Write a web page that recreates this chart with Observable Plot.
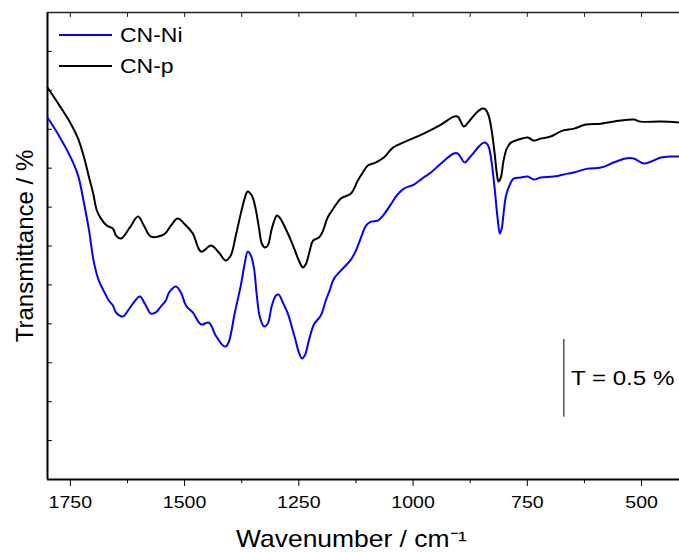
<!DOCTYPE html>
<html>
<head>
<meta charset="utf-8">
<script src="https://cdn.jsdelivr.net/npm/d3@7"></script>
<script src="https://cdn.jsdelivr.net/npm/@observablehq/plot@0.6"></script>
<style>
  body { margin: 0; background: #fff; }
  #wrap { position: relative; width: 679px; height: 552px; overflow: hidden; }
  #wrap svg { font-family: "Liberation Sans", Arial, sans-serif; }
  #legend { position: absolute; left: 0; top: 0; }
</style>
</head>
<body>
<div id="wrap"></div>
<script>
// FTIR spectra: wavenumber (cm^-1) and transmittance (%, offset scale)
const wnNi = [1800,1775,1749,1733,1720,1709,1700,1690,1683,1674,1666,1657,1650,1635,1624,1613,1598,1587,1574,1563,1552,1541,1534,1519,1508,1497,1482,1464,1447,1432,1416,1410,1403,1390,1377,1368,1362,1355,1348,1342,1335,1326,1318,1309,1300,1294,1285,1274,1265,1257,1250,1243,1237,1228,1217,1202,1191,1182,1173,1158,1136,1125,1114,1103,1092,1077,1064,1049,1036,1020,998,977,961,939,911,902,887,878,867,856,845,839,834,828,821,815,810,806,802,797,791,780,764,749,736,721,692,662,648,618,589,561,535,517,495,458,436,417];
const tNi = [2.325,2.209,2.068,1.952,1.773,1.599,1.419,1.297,1.246,1.195,1.150,1.118,1.073,1.047,1.085,1.130,1.175,1.130,1.066,1.073,1.111,1.150,1.201,1.240,1.201,1.118,1.073,0.996,1.008,0.925,0.861,0.854,0.886,1.073,1.246,1.394,1.464,1.439,1.355,1.182,1.040,0.983,1.002,1.118,1.182,1.188,1.137,1.066,0.976,0.893,0.816,0.777,0.796,0.893,0.996,1.053,1.150,1.220,1.291,1.342,1.413,1.471,1.554,1.631,1.657,1.663,1.702,1.766,1.824,1.869,1.895,1.940,1.972,2.030,2.094,2.094,2.036,2.062,2.100,2.139,2.164,2.158,2.132,2.036,1.856,1.676,1.580,1.612,1.708,1.818,1.875,1.933,1.940,1.946,1.927,1.940,1.946,1.965,1.972,1.997,2.004,2.036,2.062,2.062,2.030,2.068,2.075,2.075];

const wnP = [1800,1775,1749,1733,1720,1709,1700,1692,1683,1670,1657,1650,1639,1620,1602,1589,1574,1545,1530,1515,1499,1482,1464,1442,1425,1410,1399,1388,1377,1368,1362,1353,1346,1337,1331,1324,1318,1309,1298,1292,1274,1261,1250,1241,1235,1226,1219,1206,1197,1187,1173,1158,1136,1121,1110,1099,1082,1064,1044,1012,977,939,911,902,889,878,867,856,848,841,834,828,821,817,813,808,802,795,786,769,749,736,721,699,673,648,622,589,546,517,502,458,417];
const tP = [2.518,2.408,2.286,2.190,2.068,1.940,1.837,1.728,1.676,1.631,1.612,1.567,1.548,1.618,1.689,1.631,1.561,1.574,1.631,1.676,1.638,1.580,1.464,1.503,1.458,1.407,1.439,1.567,1.708,1.811,1.850,1.824,1.760,1.612,1.516,1.490,1.503,1.612,1.696,1.683,1.580,1.490,1.407,1.362,1.381,1.471,1.535,1.554,1.599,1.683,1.747,1.805,1.837,1.920,1.972,2.017,2.036,2.068,2.132,2.177,2.222,2.280,2.331,2.331,2.267,2.299,2.338,2.370,2.383,2.376,2.331,2.241,2.081,1.972,1.914,1.940,2.049,2.126,2.164,2.184,2.197,2.177,2.190,2.203,2.241,2.254,2.280,2.286,2.306,2.312,2.299,2.299,2.293];

const seriesNames = ["CN-Ni", "CN-p"];
const seriesColors = ["#0000ff", "#000000"];

const xMajorTicks = [1750, 1500, 1250, 1000, 750, 500];
const xMinorTicks = [1625, 1375, 1125, 875, 625];
const yTicks = [0.25, 0.5, 0.75, 1, 1.25, 1.5, 1.75, 2, 2.25, 2.5, 2.75];

// scale bar: 0.5 % transmittance
const barWavenumber = 670;
const barFrom = 0.4;
const barTo = 0.9;
const barLabel = "T = 0.5 %";

const xLabel = "Wavenumber / cm⁻¹";
const yLabel = "Transmittance / %";

const xMin = 417, xMax = 1800, yMin = 0, yMax = 3;

const ni = wnNi.map((w, i) => ({w, t: tNi[i]}));
const p = wnP.map((w, i) => ({w, t: tP[i]}));

// a plain straight stroke used for the inward frame ticks
const tickShape = {draw(context, l) { context.moveTo(0, 0); context.lineTo(0, -l); }};

const chart = Plot.plot({
  width: 679,
  height: 552,
  marginLeft: 47,
  marginRight: 0,
  marginTop: 12,
  marginBottom: 73,
  style: {background: "#fff", color: "#000", overflow: "visible"},
  x: {domain: [xMax, xMin]},
  y: {domain: [yMin, yMax], axis: null},
  marks: [
    // bottom axis: labelled major ticks, shorter minor ticks
    Plot.axisX({anchor: "bottom", ticks: xMajorTicks, tickSize: 7, tickPadding: 9, fontSize: 17, label: null, tickFormat: d => String(d)}),
    Plot.axisX({anchor: "bottom", ticks: xMinorTicks, tickSize: 4, fill: "none", label: null}),
    // top and left frame ticks pointing inward
    Plot.vector([...xMajorTicks, ...xMinorTicks], {x: d => d, y: yMax, length: 4, rotate: 180, anchor: "start", shape: tickShape, stroke: "#222", strokeWidth: 1}),
    Plot.vector(yTicks, {x: xMax, y: d => d, length: 4, rotate: 90, anchor: "start", shape: tickShape, stroke: "#000", strokeWidth: 1}),
    Plot.ruleX([xMax], {strokeWidth: 2}),
    Plot.ruleY([yMin], {strokeWidth: 2}),
    Plot.ruleY([yMax], {strokeWidth: 1.5, stroke: "#222"}),
    Plot.line(p, {x: "w", y: "t", stroke: seriesColors[1], strokeWidth: 2, curve: "catmull-rom"}),
    Plot.line(ni, {x: "w", y: "t", stroke: seriesColors[0], strokeWidth: 2, curve: "catmull-rom"}),
    Plot.ruleX([barWavenumber], {y1: barFrom, y2: barTo, stroke: "#000", strokeWidth: 1}),
    Plot.text([barLabel], {x: barWavenumber, y: (barFrom + barTo) / 2, dx: 7, textAnchor: "start", fontSize: 21, className: "wide"}),
    Plot.text([xLabel], {frameAnchor: "bottom", dy: 67, dx: -12, fontSize: 23, className: "wide"}),
    Plot.text([yLabel], {frameAnchor: "left", textAnchor: "middle", dx: -22, rotate: -90, fontSize: 24})
  ]
});

const wrap = document.getElementById("wrap");
wrap.appendChild(chart);

// legend overlay
const leg = d3.select(wrap).append("svg")
  .attr("id", "legend").attr("width", 220).attr("height", 90)
  .style("font-family", "\"Liberation Sans\", Arial, sans-serif");
seriesNames.forEach((name, i) => {
  const y = 35 + i * 31;
  leg.append("line").attr("x1", 59).attr("x2", 112).attr("y1", y).attr("y2", y)
    .attr("stroke", seriesColors[i]).attr("stroke-width", 2);
  leg.append("text").attr("x", 120).attr("y", y).attr("dy", "0.35em")
    .attr("font-size", 20).attr("fill", "#000").attr("class", "wide").text(name);
});

// widen horizontal lettering about its anchor point
function widen(el, k) {
  const b = el.getBBox();
  const anchor = el.getAttribute("text-anchor") || getComputedStyle(el).textAnchor || "start";
  const cx = anchor === "middle" ? b.x + b.width / 2 : anchor === "end" ? b.x + b.width : b.x;
  const t = el.getAttribute("transform") || "";
  el.setAttribute("transform", `${t} translate(${cx},0) scale(${k},1) translate(${-cx},0)`);
}
wrap.querySelectorAll("[aria-label='x-axis tick label'] text, .wide text, text.wide").forEach(el => widen(el, 1.15));
</script>
</body>
</html>
